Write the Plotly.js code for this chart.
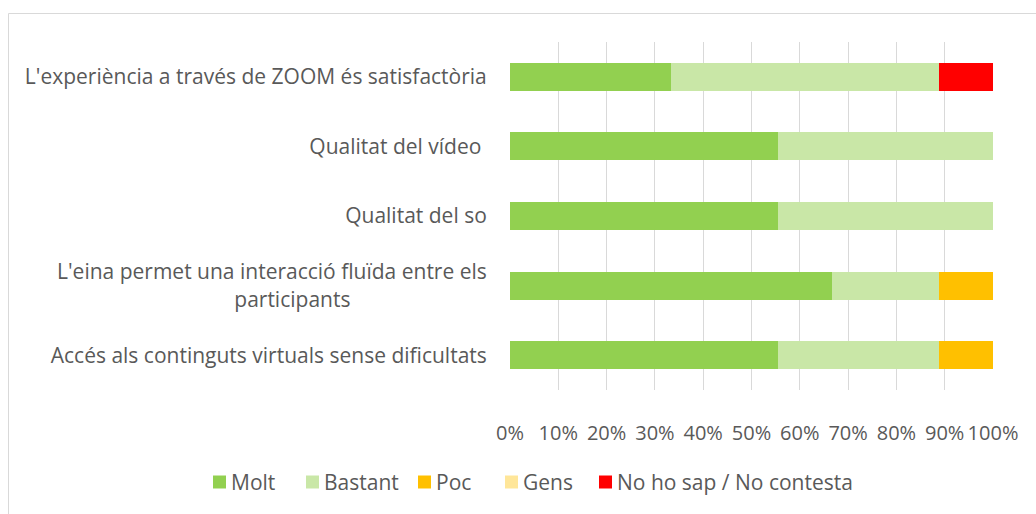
<!DOCTYPE html>
<html>
<head>
<meta charset="utf-8">
<script src="https://cdn.plot.ly/plotly-3.0.1.min.js"></script>
<style>html,body{margin:0;padding:0;background:#fff;}#chart{width:1036px;height:514px;}</style>
</head>
<body>
<div id="chart"></div>
<script>
const categories = [
  "L'experiència a través de ZOOM és satisfactòria",
  "Qualitat del vídeo\u00a0",
  "Qualitat del so",
  "L'eina permet una interacció fluïda entre els<br>participants\u00a0\u00a0\u00a0\u00a0\u00a0\u00a0\u00a0\u00a0\u00a0\u00a0\u00a0\u00a0\u00a0\u00a0\u00a0\u00a0\u00a0\u00a0\u00a0\u00a0\u00a0\u00a0\u00a0\u00a0\u00a0",
  "Accés als continguts virtuals sense dificultats"
];
const seriesNames = ["Molt", "Bastant", "Poc", "Gens", "No ho sap / No contesta"];
const molt    = [33.33, 55.56, 55.56, 66.67, 55.56];
const bastant = [55.56, 44.44, 44.44, 22.22, 33.33];
const poc     = [0, 0, 0, 11.11, 11.11];
const gens    = [0, 0, 0, 0, 0];
const nsnc    = [11.11, 0, 0, 0, 0];
const tickVals = [0,10,20,30,40,50,60,70,80,90,100];
const tickText = ["0%","10%","20%","30%","40%","50%","60%","70%","80%","90%","100%"];

const colors = ["#92D050", "#C9E7A7", "#FFC000", "#FFE699", "#FF0000"];
const values = [molt, bastant, poc, gens, nsnc];

const traces = values.map((v, i) => ({
  type: 'bar',
  orientation: 'h',
  name: seriesNames[i],
  x: v,
  y: categories,
  marker: {color: colors[i]},
  hoverinfo: 'skip'
}));

const W = 1036, H = 514, L = 510, R = 43, T = 42, B = 124;
const pw = W - L - R, ph = H - T - B;
const px2x = p => (p - L) / pw;
const px2y = p => (H - B - p) / ph;
const FS = 20;

// border (left & top of chart area frame)
const shapes = [
  {type: 'line', xref: 'paper', yref: 'paper', x0: px2x(8.5), x1: px2x(8.5), y0: px2y(13.5), y1: px2y(520), line: {color: '#d9d9d9', width: 1}},
  {type: 'line', xref: 'paper', yref: 'paper', x0: px2x(8.5), x1: px2x(1040), y0: px2y(13.5), y1: px2y(13.5), line: {color: '#d9d9d9', width: 1}}
];
const annotations = [];

// manual legend (one row below the axis)
const legendSquareX = [213, 306, 418, 505, 599];
const legendY = 482;
const sq = 13;
seriesNames.forEach((name, i) => {
  const x0 = legendSquareX[i];
  shapes.push({type: 'rect', xref: 'paper', yref: 'paper',
    x0: px2x(x0), x1: px2x(x0 + sq), y0: px2y(legendY - sq/2), y1: px2y(legendY + sq/2),
    fillcolor: colors[i], line: {width: 0}});
  annotations.push({xref: 'paper', yref: 'paper', x: px2x(x0 + sq + 3), y: px2y(legendY),
    xanchor: 'left', yanchor: 'middle', showarrow: false, text: name,
    font: {size: 21, color: '#595959'}});
});

const layout = {
  width: W, height: H,
  margin: {l: L, r: R, t: T, b: B, pad: 0},
  barmode: 'stack',
  bargap: 0.6,
  paper_bgcolor: '#ffffff',
  plot_bgcolor: '#ffffff',
  font: {family: 'Open Sans, sans-serif', color: '#595959', size: FS},
  showlegend: false,
  xaxis: {
    range: [0, 100],
    tickvals: tickVals, ticktext: tickText,
    showgrid: true, gridcolor: '#d9d9d9', gridwidth: 1,
    zeroline: false, showline: false,
    ticks: 'outside', ticklen: 25, tickcolor: 'rgba(0,0,0,0)',
    tickfont: {size: FS, color: '#595959'},
    automargin: false,
    fixedrange: true
  },
  yaxis: {
    autorange: 'reversed',
    type: 'category',
    showgrid: false, zeroline: false, showline: false,
    ticks: 'outside', ticklen: 18, tickcolor: 'rgba(0,0,0,0)',
    tickfont: {size: 21, color: '#595959', lineposition: 'none'},
    automargin: false,
    fixedrange: true
  },
  shapes: shapes,
  annotations: annotations
};

Plotly.newPlot('chart', traces, layout, {displayModeBar: false, staticPlot: true});
</script>
</body>
</html>
